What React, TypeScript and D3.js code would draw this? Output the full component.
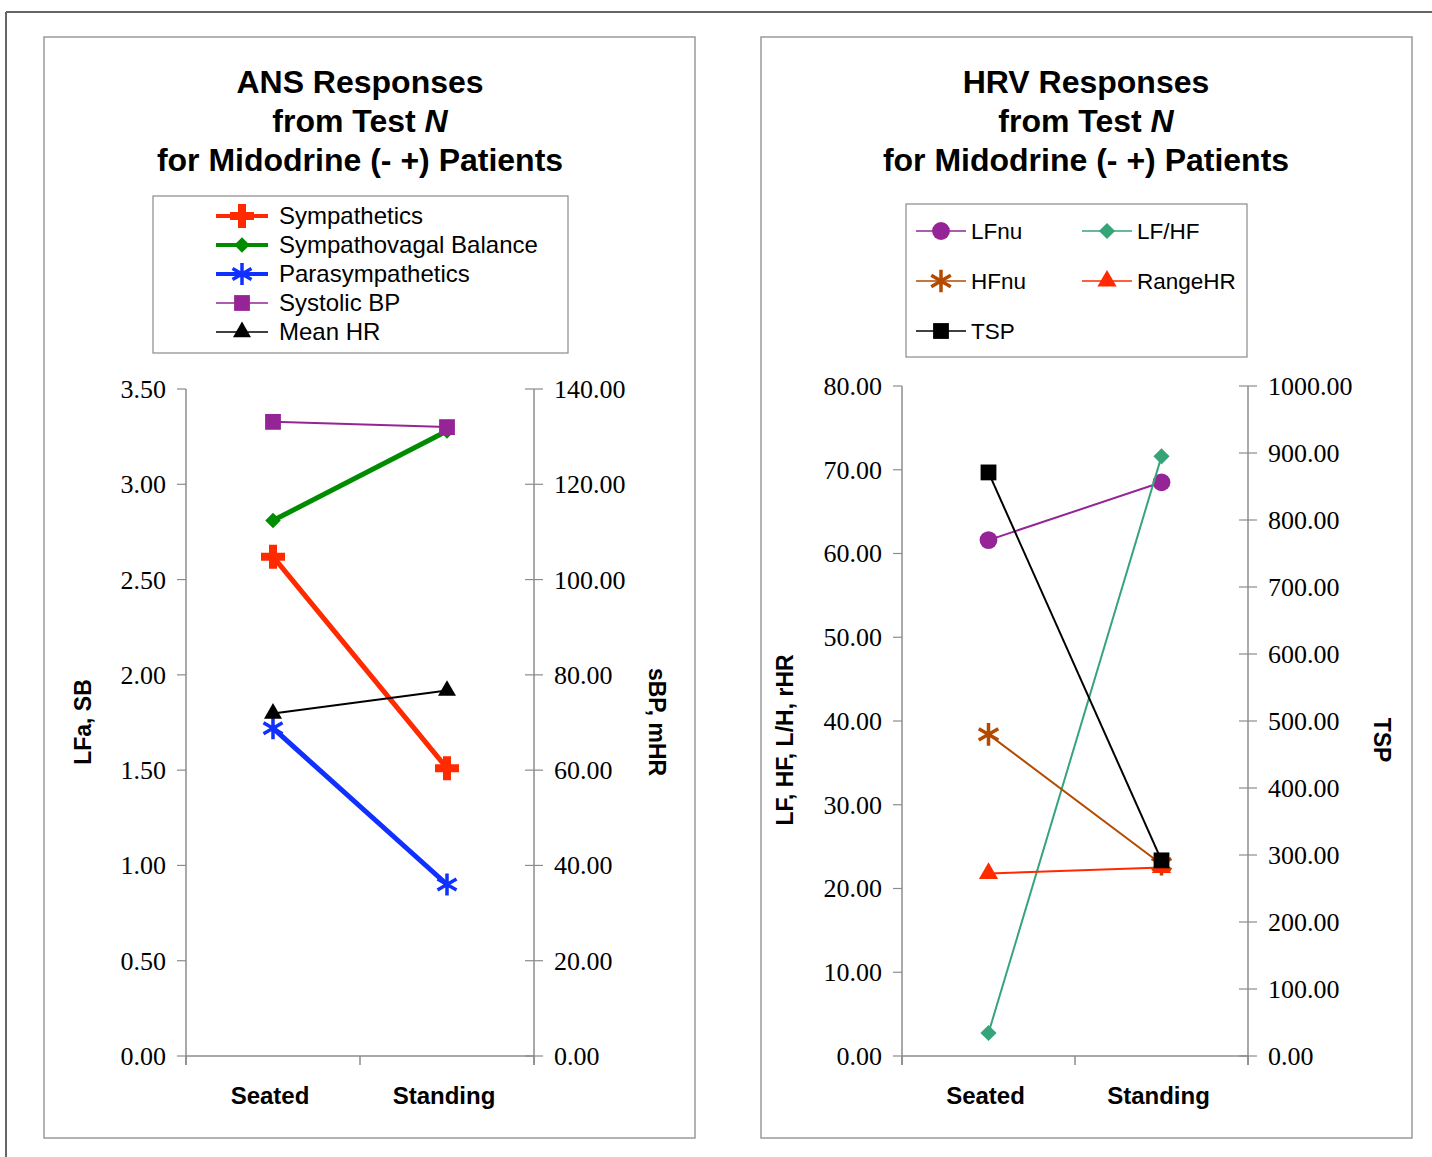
import React from "react";
import * as d3 from "d3";

// --- data ---
const categories = ["Seated", "Standing"];

// ANS chart (left axis 0-3.5, right axis 0-140)
const ansLeftTicks = [0, 0.5, 1, 1.5, 2, 2.5, 3, 3.5];
const ansRightTicks = [0, 20, 40, 60, 80, 100, 120, 140];
const sympathetics = [2.62, 1.51];
const sympathovagal = [2.81, 3.28];
const parasympathetics = [1.72, 0.9];
const systolicBP = [133.1, 132.0];
const meanHR = [71.9, 76.7];

// HRV chart (left axis 0-80, right axis 0-1000)
const hrvLeftTicks = [0, 10, 20, 30, 40, 50, 60, 70, 80];
const hrvRightTicks = [0, 100, 200, 300, 400, 500, 600, 700, 800, 900, 1000];
const lfnu = [61.6, 68.5];
const lfhf = [2.75, 71.6];
const hfnu = [38.4, 22.9];
const rangeHR = [21.8, 22.5];
const tsp = [871, 292];

const SANS = "'Liberation Sans', Arial, Helvetica, sans-serif";
const SERIF = "'Liberation Serif', 'Times New Roman', serif";
const AXIS = "#8c8c8c";
const fmt = d3.format(".2f");

type Series = {
  name: string;
  values: number[];
  color: string;
  width: number;
  marker: string;
  msize: number;
  axis: "left" | "right";
};

const ansSeries: Series[] = [
  { name: "Sympathetics", values: sympathetics, color: "#ff2a00", width: 5, marker: "plus", msize: 320, axis: "left" },
  { name: "Sympathovagal Balance", values: sympathovagal, color: "#008c00", width: 5, marker: "diamond", msize: 120, axis: "left" },
  { name: "Parasympathetics", values: parasympathetics, color: "#1030ff", width: 5, marker: "asterisk", msize: 340, axis: "left" },
  { name: "Systolic BP", values: systolicBP, color: "#952596", width: 2, marker: "square", msize: 250, axis: "right" },
  { name: "Mean HR", values: meanHR, color: "#000000", width: 2, marker: "triangle", msize: 140, axis: "right" },
];

const hrvSeries: Series[] = [
  { name: "LFnu", values: lfnu, color: "#952596", width: 2, marker: "circle", msize: 250, axis: "left" },
  { name: "LF/HF", values: lfhf, color: "#36a479", width: 2, marker: "diamond", msize: 130, axis: "left" },
  { name: "HFnu", values: hfnu, color: "#b34a00", width: 2, marker: "asterisk", msize: 360, axis: "left" },
  { name: "RangeHR", values: rangeHR, color: "#ff2a00", width: 2, marker: "triangle", msize: 160, axis: "left" },
  { name: "TSP", values: tsp, color: "#000000", width: 2, marker: "square", msize: 250, axis: "right" },
];

function Marker({ type, size, color, x, y }: { type: string; size: number; color: string; x: number; y: number }) {
  if (type === "asterisk") {
    const p = d3.symbol(d3.symbolAsterisk, size)();
    return <path d={p || ""} transform={`translate(${x},${y})`} fill="none" stroke={color} strokeWidth={3.5} />;
  }
  const sym: any =
    type === "plus" ? d3.symbolCross :
    type === "circle" ? d3.symbolCircle :
    type === "triangle" ? d3.symbolTriangle : d3.symbolSquare;
  const rot = type === "diamond" ? " rotate(45)" : "";
  const p = d3.symbol(sym, size)();
  return <path d={p || ""} transform={`translate(${x},${y})${rot}`} fill={color} />;
}

type PanelProps = {
  box: [number, number, number, number];
  title: string;
  titleX: number;
  legendBox: [number, number, number, number];
  legendPos: [number, number][];
  legendLine: number;
  legendFont: number;
  legendGap: number;
  series: Series[];
  x0: number;
  x1: number;
  yTop: number;
  yBottom: number;
  leftTicks: number[];
  rightTicks: number[];
  leftTitle: string;
  leftTitleX: number;
  rightTitle: string;
  rightTitleX: number;
  titleMidY: number;
};

function Panel(p: PanelProps) {
  const xBand = d3.scaleBand().domain(categories).range([p.x0, p.x1]);
  const yL = d3.scaleLinear().domain([0, d3.max(p.leftTicks)!]).range([p.yBottom, p.yTop]);
  const yR = d3.scaleLinear().domain([0, d3.max(p.rightTicks)!]).range([p.yBottom, p.yTop]);
  const cx = (c: string) => xBand(c)! + xBand.bandwidth() / 2;
  const bounds = [p.x0, ...categories.map((c) => xBand(c)! + xBand.bandwidth())];
  const [bx, by, bw, bh] = p.box;
  const [lx, ly, lw, lh] = p.legendBox;
  const titleLines = [p.title, "from Test ", "for Midodrine (- +) Patients"];

  return (
    <g>
      <rect x={bx} y={by} width={bw} height={bh} fill="#fff" stroke="#9a9a9a" strokeWidth={1.5} />
      {titleLines.map((t, i) => (
        <text key={i} x={p.titleX} y={85 + i * 39} textAnchor="middle" dominantBaseline="middle"
          fontFamily={SANS} fontWeight="bold" fontSize={32}>
          {t}
          {i === 1 ? <tspan fontStyle="italic">N</tspan> : null}
        </text>
      ))}

      {/* legend */}
      <rect x={lx} y={ly} width={lw} height={lh} fill="#fff" stroke="#8a8a8a" strokeWidth={1.2} />
      {p.series.map((s, i) => {
        const [mx, my] = p.legendPos[i];
        const h = p.legendLine / 2;
        return (
          <g key={s.name}>
            <line x1={mx - h} x2={mx + h} y1={my} y2={my} stroke={s.color} strokeWidth={s.width > 2 ? 4 : 1.6} />
            <Marker type={s.marker} size={s.msize} color={s.color} x={mx} y={my} />
            <text x={mx + h + p.legendGap} y={my + 2} dominantBaseline="middle" fontFamily={SANS}
              fontSize={p.legendFont}>{s.name}</text>
          </g>
        );
      })}

      {/* axes */}
      <line x1={p.x0} x2={p.x0} y1={p.yTop} y2={p.yBottom + 9} stroke={AXIS} strokeWidth={1.5} />
      <line x1={p.x1} x2={p.x1} y1={p.yTop} y2={p.yBottom + 9} stroke={AXIS} strokeWidth={1.5} />
      <line x1={p.x0} x2={p.x1} y1={p.yBottom} y2={p.yBottom} stroke={AXIS} strokeWidth={1.5} />
      {bounds.map((b, i) => (
        <line key={i} x1={b} x2={b} y1={p.yBottom} y2={p.yBottom + 9} stroke={AXIS} strokeWidth={1.5} />
      ))}
      {p.leftTicks.map((t) => (
        <g key={"l" + t}>
          <line x1={p.x0 - 9} x2={p.x0} y1={yL(t)} y2={yL(t)} stroke={AXIS} strokeWidth={1.2} />
          <text x={p.x0 - 20} y={yL(t) + 3} textAnchor="end" dominantBaseline="middle" fontFamily={SERIF} fontSize={26}>
            {fmt(t)}
          </text>
        </g>
      ))}
      {p.rightTicks.map((t) => (
        <g key={"r" + t}>
          <line x1={p.x1 - 9} x2={p.x1 + 9} y1={yR(t)} y2={yR(t)} stroke={AXIS} strokeWidth={1.2} />
          <text x={p.x1 + 20} y={yR(t) + 3} dominantBaseline="middle" fontFamily={SERIF} fontSize={26}>
            {fmt(t)}
          </text>
        </g>
      ))}
      {categories.map((c) => (
        <text key={c} x={cx(c) - 3} y={p.yBottom + 42} textAnchor="middle" dominantBaseline="middle"
          fontFamily={SANS} fontWeight="bold" fontSize={24}>{c}</text>
      ))}
      <text transform={`translate(${p.leftTitleX},${p.titleMidY}) rotate(-90)`} textAnchor="middle"
        dominantBaseline="middle" fontFamily={SANS} fontWeight="bold" fontSize={23}>{p.leftTitle}</text>
      <text transform={`translate(${p.rightTitleX},${p.titleMidY}) rotate(90)`} textAnchor="middle"
        dominantBaseline="middle" fontFamily={SANS} fontWeight="bold" fontSize={23}>{p.rightTitle}</text>

      {/* series */}
      {p.series.map((s) => {
        const y = s.axis === "left" ? yL : yR;
        const line = d3.line<number>().x((_, i) => cx(categories[i])).y((v) => y(v));
        return (
          <g key={s.name}>
            <path d={line(s.values) || ""} fill="none" stroke={s.color} strokeWidth={s.width} />
            {s.values.map((v, i) => (
              <Marker key={i} type={s.marker} size={s.msize} color={s.color} x={cx(categories[i])} y={y(v)} />
            ))}
          </g>
        );
      })}
    </g>
  );
}

export default function App() {
  return (
    <svg width={1432} height={1157} style={{ position: "absolute", left: 0, top: 0, background: "#fff" }}>
      <line x1={6} x2={1432} y1={12} y2={12} stroke="#666" strokeWidth={2} />
      <line x1={6} x2={6} y1={12} y2={1157} stroke="#666" strokeWidth={2} />
      <Panel
        box={[44, 37, 651, 1101]}
        title="ANS Responses"
        titleX={360}
        legendBox={[153, 196, 415, 157]}
        legendPos={[[242, 216], [242, 245], [242, 274], [242, 303], [242, 332]]}
        legendLine={52}
        legendFont={24}
        legendGap={11}
        series={ansSeries}
        x0={186}
        x1={534}
        yTop={389}
        yBottom={1056}
        leftTicks={ansLeftTicks}
        rightTicks={ansRightTicks}
        leftTitle="LFa, SB"
        leftTitleX={85}
        rightTitle="sBP, mHR"
        rightTitleX={655}
        titleMidY={722}
      />
      <Panel
        box={[761, 37, 651, 1101]}
        title="HRV Responses"
        titleX={1086}
        legendBox={[906, 204, 341, 153]}
        legendPos={[[941, 231], [1107, 231], [941, 281], [1107, 281], [941, 331]]}
        legendLine={50}
        legendFont={22.5}
        legendGap={5}
        series={hrvSeries}
        x0={902}
        x1={1248}
        yTop={386}
        yBottom={1056}
        leftTicks={hrvLeftTicks}
        rightTicks={hrvRightTicks}
        leftTitle="LF, HF, L/H, rHR"
        leftTitleX={787}
        rightTitle="TSP"
        rightTitleX={1380}
        titleMidY={740}
      />
    </svg>
  );
}
